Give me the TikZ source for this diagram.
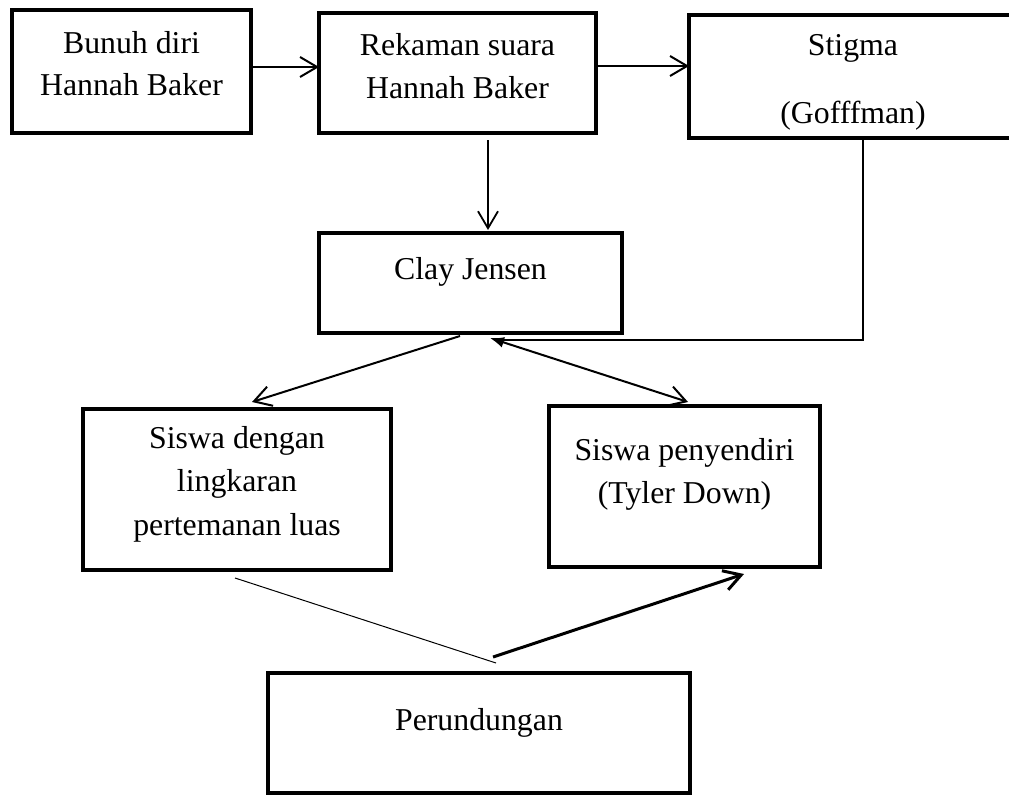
\documentclass[tikz,border=0pt]{standalone}
\usepackage{fontspec}
\setmainfont{Liberation Serif}
\usetikzlibrary{arrows.meta,calc}
\newcommand{\boxtxt}[5]{\parbox[c][#2][t]{#1}{\fontsize{31.8pt}{#4}\selectfont\centering\rule{0pt}{#3}#5\par}}
\begin{document}
\begin{tikzpicture}[x=1pt,y=-1pt,
  box/.style={draw, line width=3.5pt, inner sep=0pt, outer sep=0pt},
  barb/.style={-{Straight Barb[length=17pt,width=20pt]}},
  conn/.style={line width=2pt, barb},
  downconn/.style={line width=1.8pt, barb},
  dbl/.style={line width=2pt, {Latex[length=14pt,width=11pt]}-{Straight Barb[length=17pt,width=20pt]}},
  stigline/.style={line width=1.5pt},
  thinline/.style={line width=1pt},
  thickconn/.style={line width=3pt, barb}]
\useasboundingbox (0,0) rectangle (1009,795);
\clip (0,0) rectangle (1009,795);

\node[box] (b1) at (131.5,71.5) {\boxtxt{239pt}{123pt}{43pt}{42pt}{Bunuh diri\\Hannah Baker}};
\node[box] (b2) at (457.5,73) {\boxtxt{277pt}{120pt}{42pt}{43pt}{Rekaman suara\\Hannah Baker}};
\node[box] (b3) at (853,76.5) {\boxtxt{328pt}{123pt}{40pt}{68pt}{Stigma\\(Gofffman)}};
\node[box] (clay) at (470.5,283) {\boxtxt{303pt}{100pt}{46pt}{42pt}{Clay Jensen}};
\node[box] (sd) at (237,489.5) {\boxtxt{308pt}{161pt}{39pt}{43.5pt}{Siswa dengan\\lingkaran\\pertemanan luas}};
\node[box] (sp) at (684.5,486.5) {\boxtxt{271pt}{161pt}{54pt}{43pt}{Siswa penyendiri\\(Tyler Down)}};
\node[box] (pr) at (479,733) {\boxtxt{422pt}{120pt}{57pt}{42pt}{Perundungan}};

\draw[conn] ($(b1.east)+(0,-4.5)$) -- ($(b2.west)+(0,-6)$);
\draw[conn] ($(b2.east)+(0,-7)$) -- ($(b3.west)+(0,-10.5)$);
\draw[downconn] ($(b2.south)+(30.5,7)$) -- ($(clay.north)+(17.5,-3)$);
\draw[stigline] ($(b3.south)+(10,0)$) |- ($(clay.south)+(28,7)$);
\draw[conn] ($(clay.south)+(-10.5,3)$) -- ($(sd.north)+(15,-7)$);
\draw[dbl] ($(clay.south)+(19.5,5)$) -- ($(sp.north)+(3.5,-4)$);
\draw[thinline] ($(sd.south)+(-2,8)$) -- ($(pr.north)+(17,-10)$);
\draw[thickconn] ($(pr.north)+(14,-16)$) -- ($(sp.south)+(59.5,7)$);
\end{tikzpicture}
\end{document}
